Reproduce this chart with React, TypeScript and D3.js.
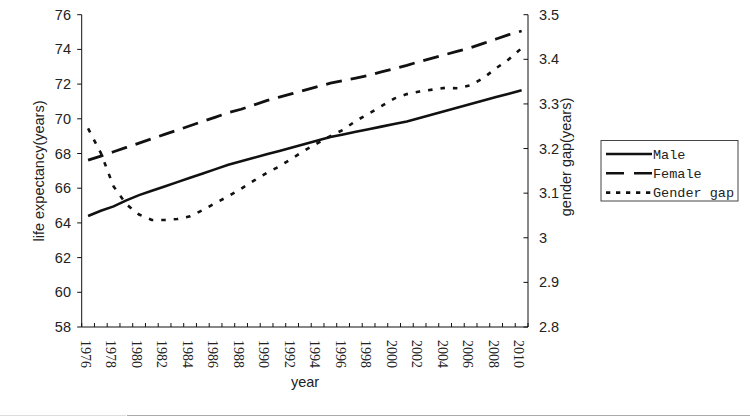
import React from "react";
import * as d3 from "d3";

const years: number[] = [
  1976, 1977, 1978, 1979, 1980, 1981, 1982, 1983, 1984, 1985, 1986, 1987,
  1988, 1989, 1990, 1991, 1992, 1993, 1994, 1995, 1996, 1997, 1998, 1999,
  2000, 2001, 2002, 2003, 2004, 2005, 2006, 2007, 2008, 2009, 2010,
];

const male: number[] = [
  64.4, 64.7, 64.95, 65.3, 65.6, 65.85, 66.1, 66.35, 66.6, 66.85, 67.1, 67.35,
  67.55, 67.75, 67.95, 68.15, 68.35, 68.55, 68.75, 68.95, 69.1, 69.25, 69.4,
  69.55, 69.7, 69.85, 70.05, 70.25, 70.45, 70.65, 70.85, 71.05, 71.25, 71.45,
  71.65,
];

const female: number[] = [
  67.62, 67.85, 68.1, 68.35, 68.6, 68.85, 69.1, 69.35, 69.6, 69.85, 70.1,
  70.35, 70.55, 70.8, 71.05, 71.25, 71.45, 71.65, 71.85, 72.05, 72.2, 72.35,
  72.5, 72.7, 72.88, 73.08, 73.3, 73.5, 73.7, 73.9, 74.1, 74.35, 74.6, 74.85,
  75.06,
];

const gap: number[] = [
  3.245, 3.19, 3.115, 3.075, 3.052, 3.04, 3.04, 3.042, 3.048, 3.062, 3.078,
  3.093, 3.11, 3.128, 3.145, 3.16, 3.178, 3.196, 3.212, 3.228, 3.242, 3.262,
  3.278, 3.295, 3.312, 3.322, 3.328, 3.332, 3.336, 3.335, 3.342, 3.358, 3.38,
  3.4, 3.425,
];

const leftTicks: number[] = [58, 60, 62, 64, 66, 68, 70, 72, 74, 76];
const rightTicks: number[] = [2.8, 2.9, 3.0, 3.1, 3.2, 3.3, 3.4, 3.5];
const rightTickLabels: string[] = ["2.8", "2.9", "3", "3.1", "3.2", "3.3", "3.4", "3.5"];
const xLabelYears: number[] = years.filter((y) => (y - 1976) % 2 === 0);

const legendItems = [
  { label: "Male", dash: "none" },
  { label: "Female", dash: "18,10" },
  { label: "Gender gap", dash: "4.3,5.7" },
];

const W = 750;
const H = 419;
const left = 81.7;
const right = 528;
const top = 14.7;
const bottom = 327;

export default function App() {
  const x = d3.scaleBand<number>().domain(years).range([left, right]).padding(0);
  const yL = d3.scaleLinear().domain([58, 76]).range([bottom, top]);
  const yR = d3.scaleLinear().domain([2.8, 3.5]).range([bottom, top]);
  const cx = (yr: number) => (x(yr) as number) + x.bandwidth() / 2;

  const lineL = d3
    .line<number>()
    .x((_, i) => cx(years[i]))
    .y((d) => yL(d));
  const lineR = d3
    .line<number>()
    .x((_, i) => cx(years[i]))
    .y((d) => yR(d));

  const sans = "'Liberation Sans', Arial, sans-serif";
  const serif = "'Liberation Serif', 'Times New Roman', serif";
  const mono = "'Liberation Mono', 'Courier New', monospace";
  const ink = "#111";

  const boundaries = d3.range(years.length + 1).map((i) => left + i * x.step());

  return (
    <svg
      width={W}
      height={H}
      style={{ position: "absolute", left: 0, top: 0, background: "#fff" }}
    >
      <rect x={0} y={0} width={W} height={H} fill="#fff" />

      {/* left axis */}
      <line x1={left} x2={left} y1={top} y2={bottom} stroke={ink} strokeWidth={1} />
      {leftTicks.map((t) => (
        <g key={"l" + t}>
          <line x1={left - 4.5} x2={left} y1={yL(t)} y2={yL(t)} stroke={ink} strokeWidth={1} />
          <text
            x={71}
            y={yL(t)}
            dy="0.35em"
            textAnchor="end"
            fontFamily={sans}
            fontSize={14.5}
            fill="#222"
          >
            {t}
          </text>
        </g>
      ))}

      {/* right axis */}
      <line x1={right} x2={right} y1={top} y2={bottom} stroke={ink} strokeWidth={1} />
      {rightTicks.map((t, i) => (
        <g key={"r" + i}>
          <line x1={right - 4.5} x2={right} y1={yR(t)} y2={yR(t)} stroke={ink} strokeWidth={1} />
          <text
            x={539}
            y={yR(t)}
            dy="0.35em"
            textAnchor="start"
            fontFamily={sans}
            fontSize={14.5}
            fill="#222"
          >
            {rightTickLabels[i]}
          </text>
        </g>
      ))}

      {/* bottom axis */}
      <line x1={left} x2={right} y1={bottom} y2={bottom} stroke={ink} strokeWidth={1} />
      {boundaries.map((b, i) => (
        <line key={"b" + i} x1={b} x2={b} y1={bottom - 4} y2={bottom} stroke={ink} strokeWidth={1} />
      ))}
      {xLabelYears.map((yr) => (
        <text
          key={"x" + yr}
          transform={`translate(${cx(yr) - 2.5},${340}) rotate(90)`}
          dy="0.35em"
          textAnchor="start"
          fontFamily={serif}
          fontSize={14}
          fill="#222"
        >
          {yr}
        </text>
      ))}

      {/* axis titles */}
      <text
        transform={`translate(44,171) rotate(-90)`}
        textAnchor="middle"
        fontFamily={sans}
        fontSize={14.5}
        fill="#222"
      >
        life expectancy(years)
      </text>
      <text
        transform={`translate(571,157) rotate(-90)`}
        textAnchor="middle"
        fontFamily={sans}
        fontSize={14.5}
        fill="#222"
      >
        gender gap(years)
      </text>
      <text x={305} y={387} textAnchor="middle" fontFamily={sans} fontSize={14.5} fill="#222">
        year
      </text>

      {/* series */}
      <path d={lineL(male) || ""} fill="none" stroke={ink} strokeWidth={2.6} />
      <path
        d={lineL(female) || ""}
        fill="none"
        stroke={ink}
        strokeWidth={2.8}
        strokeDasharray="16,9"
      />
      <path
        d={lineR(gap) || ""}
        fill="none"
        stroke={ink}
        strokeWidth={2.6}
        strokeDasharray="4.5,8"
      />

      {/* legend */}
      <rect x={601} y={140.5} width={137} height={60.5} fill="#fff" stroke="#444" strokeWidth={1} />
      {legendItems.map((it, i) => {
        const cy = 154 + i * 19.3;
        return (
          <g key={it.label}>
            <line
              x1={606}
              x2={652}
              y1={cy}
              y2={cy}
              stroke={ink}
              strokeWidth={2.6}
              strokeDasharray={it.dash === "none" ? undefined : it.dash}
            />
            <text
              x={653}
              y={cy}
              dy="0.35em"
              fontFamily={mono}
              fontSize={13.5}
              fill="#222"
            >
              {it.label}
            </text>
          </g>
        );
      })}

      {/* page border artifact at bottom */}
      <line x1={0} x2={126} y1={415.5} y2={415.5} stroke="#ddd" strokeWidth={1} />
      <line x1={127} x2={W} y1={415.5} y2={415.5} stroke="#aaa" strokeWidth={1} />
    </svg>
  );
}
